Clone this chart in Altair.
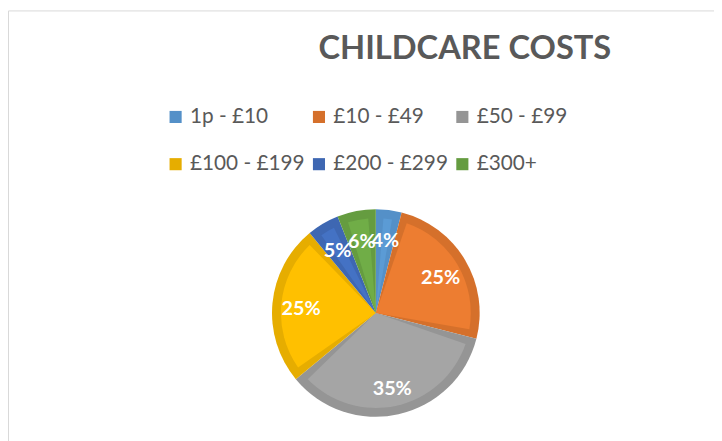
import altair as alt
import pandas as pd

categories = ["1p - £10", "£10 - £49", "£50 - £99", "£100 - £199", "£200 - £299", "£300+"]
shares = [4, 25, 35, 25, 5, 6]
labels = ["4%", "25%", "35%", "25%", "5%", "6%"]
fill_colors = ["#5B9BD5", "#ED7D31", "#A5A5A5", "#FFC000", "#4472C4", "#70AD47"]
edge_colors = ["#5490C8", "#D5702B", "#959595", "#E6AD00", "#3E67B2", "#659C40"]

df = pd.DataFrame({"cat": categories, "share": shares, "label": labels,
                   "idx": list(range(len(categories)))})

W, H = 714, 433
CX, CY = 372, 306
R = 105

frame = alt.Chart(alt.Data(values=[{}])).mark_rect(
    fill="white", stroke="#D9D9D9", strokeWidth=1
).encode(x=alt.value(0.5), x2=alt.value(W + 5), y=alt.value(0.5), y2=alt.value(H + 5))

base = alt.Chart(df).encode(
    theta=alt.Theta("share:Q", stack=True),
    order=alt.Order("idx:Q"),
)

outer = base.mark_arc(outerRadius=R, x=CX, y=CY).encode(
    color=alt.Color("cat:N", sort=categories,
                    scale=alt.Scale(domain=categories, range=edge_colors),
                    legend=alt.Legend(title=None, orient="none", legendX=159, legendY=97,
                                      columns=3, direction="horizontal",
                                      columnPadding=4, rowPadding=26,
                                      symbolType="square", symbolSize=150,
                                      symbolStrokeWidth=0, labelFont="Lato",
                                      labelFontSize=21, labelColor="#595959",
                                      labelLimit=300, symbolOffset=0))
)

inner = base.mark_arc(outerRadius=R - 9, padAngle=0.16, x=CX, y=CY).encode(
    fill=alt.Fill("cat:N", sort=categories,
                  scale=alt.Scale(domain=categories, range=fill_colors),
                  legend=None)
)

text = base.mark_text(radius=76, x=CX, y=CY, dy=3, font="Lato", fontSize=20,
                      fontWeight="bold", color="white").encode(
    text="label:N"
)

chart = alt.layer(frame, outer, inner, text).resolve_scale(color="independent", fill="independent").properties(
    width=W, height=H,
    background="white",
    autosize=alt.AutoSizeParams(type="none"),
    padding=0,
    title=alt.TitleParams("CHILDCARE COSTS", anchor="middle", dx=105, dy=60,
                          font="Lato", fontSize=33, fontWeight="bold", color="#595959"),
).configure_view(stroke=None)

chart.save("out.html", embed_options={"renderer": "svg", "actions": False})
